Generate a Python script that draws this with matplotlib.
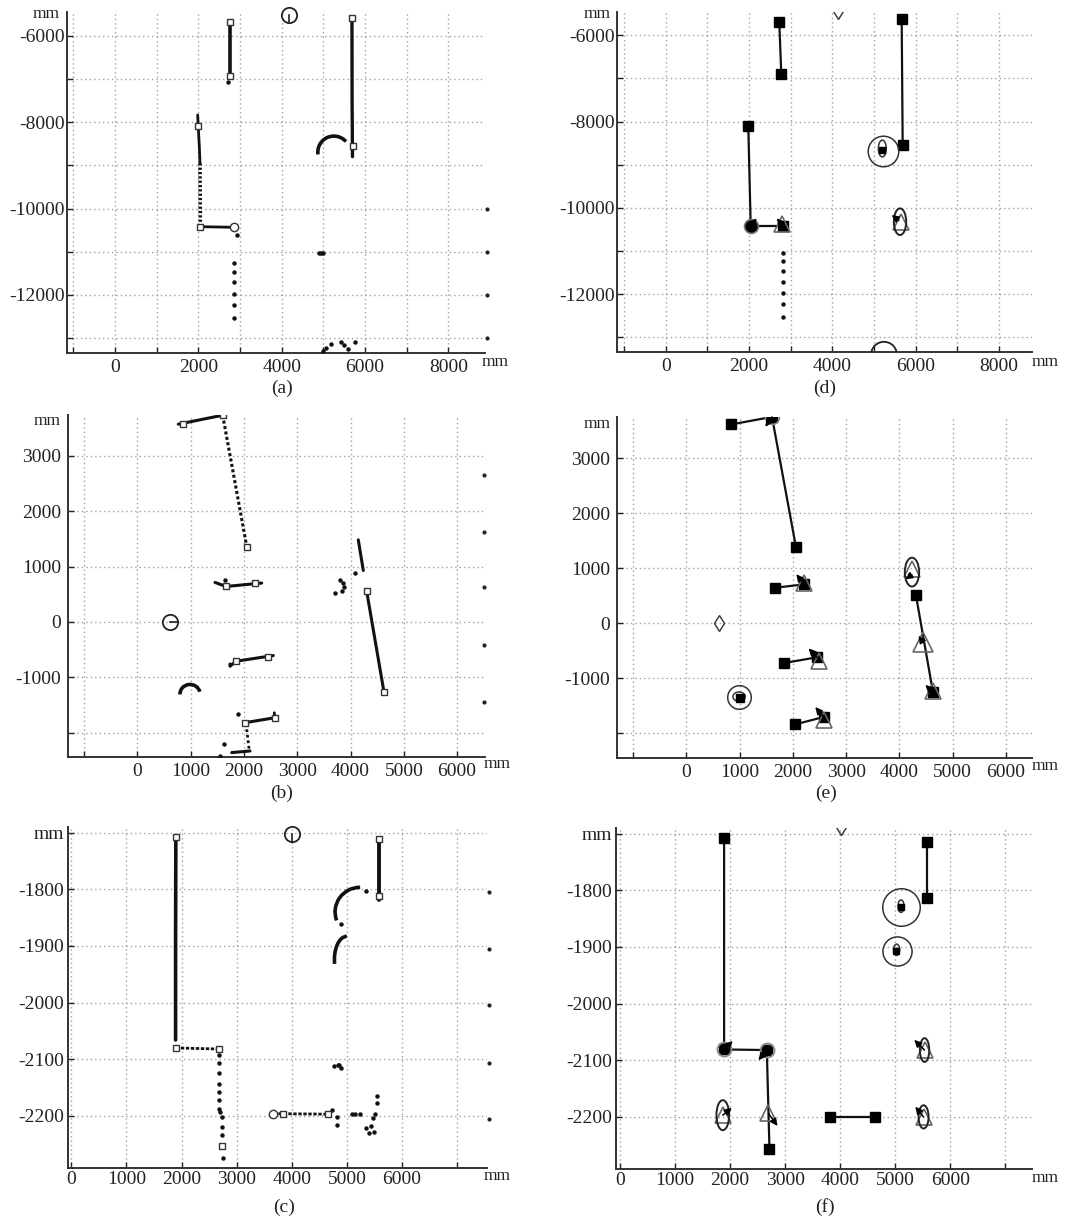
import matplotlib
matplotlib.use("Agg")
import matplotlib.pyplot as plt
from matplotlib.patches import Ellipse, Arc

plt.rcParams['font.family'] = ['Liberation Serif', 'DejaVu Serif']

W, H = 1081, 1220
FS = 14
MMFS = 12.5

# ======================= DATA =======================
# ---- panel (a): raw laser scan, room 1 ----
a_wall1_x = [2771, 2771];           a_wall1_y = [-5690, -6933]
a_wall2_x = [5687, 5690, 5700];     a_wall2_y = [-5597, -7500, -8800]
a_wall3_x = [1984, 2024, 2040];     a_wall3_y = [-7836, -8569, -8954]
a_wall3b_x = [2040, 2048];          a_wall3b_y = [-8954, -10421]
a_wall4_x = [2048, 2851];           a_wall4_y = [-10421, -10435]
a_sq_x = [2771, 2771, 5687, 5700, 2000, 2048]
a_sq_y = [-5690, -6933, -5597, -8546, -8090, -10421]
a_circ_x = [2851];                  a_circ_y = [-10435]
a_dots_x = [2715, 2916, 2867, 2867, 2867, 2867, 2867, 2867, 4900, 4940, 4980,
            4980, 5060, 5180, 5422, 5502, 5600, 5767]
a_dots_y = [-7079, -10613, -11269, -11477, -11708, -11970, -12234, -12525,
            -11037, -11030, -11037, -13310, -13236, -13136, -13090, -13160,
            -13260, -13083]
a_arc_c = [5253, -8694]; a_arc_wh = [770, 740]; a_arc_t = [40, 188]
a_edge_y = [-10000, -11000, -12000, -13000]; a_edge_x = 8920
a_robot = [4169, -5521]; a_head = [4169, -5690]

# ---- panel (d): extracted features, room 1 ----
d_seg1_x = [2727, 2776];            d_seg1_y = [-5692, -6903]
d_seg2_x = [5666, 5690];            d_seg2_y = [-5613, -8546]
d_seg3_x = [1983, 2041, 2824];      d_seg3_y = [-8106, -10421, -10421]
d_corner_x = [2041];                d_corner_y = [-10421]
d_arrow_tail_x = [2041, 2824, 5600]; d_arrow_tail_y = [-10421, -10421, -10290]
d_arrow_head_x = [2185, 2665, 5426]; d_arrow_head_y = [-10243, -10243, -10167]
d_tri_x = [2785, 5640];             d_tri_y = [-10380, -10330]
d_ell_c = [5626, -10322];           d_ell_wh = [296, 617]
d_bigc_x = [5225];                  d_bigc_y = [-8678]
d_inell_c = [5201, -8625];          d_inell_wh = [190, 390]
d_insq_x = [5201];                  d_insq_y = [-8650]
d_dots_y = [-11039, -11231, -11456, -11710, -11965, -12227, -12521]; d_dots_x = 2824
d_diamond = [4144, -5440]
d_arc_c = [5241, -13407];           d_arc_wh = [620, 600]

# ---- panel (b): raw laser scan, room 2 ----
b_segA_x = [769, 1602];             b_segA_y = [3573, 3735]
b_segB_x = [1602, 2053];            b_segB_y = [3735, 1362]
b_segC_x = [1458, 1664, 2334];      b_segC_y = [714, 641, 703]
b_segD_x = [1739, 1739, 1852, 2551]; b_segD_y = [-760, -800, -710, -607]
b_segE_x = [2021, 2583];            b_segE_y = [-1820, -1730]
b_segE2_x = [2570, 2583];           b_segE2_y = [-1640, -1770]
b_segF_x = [4304, 4628];            b_segF_y = [551, -1268]
b_segG_x = [4146, 4240];            b_segG_y = [1483, 930]
b_segH_x = [2053, 2101];            b_segH_y = [-1940, -2331]
b_segI_x = [1771, 2115];            b_segI_y = [-2360, -2331]
b_sq_x = [863, 1602, 2053, 1664, 2208, 1852, 2458, 2021, 2583, 4304, 4628]
b_sq_y = [3573, 3735, 1362, 641, 703, -710, -631, -1820, -1730, 551, -1268]
b_dots_x = [1884, 1627, 1552, 4084, 3803, 3865, 3884, 3834, 3709, 1645]
b_dots_y = [-1670, -2211, -2420, 883, 762, 703, 631, 551, 523, 760]
b_arc_c = [989, -1300]; b_arc_wh = [376, 340]; b_arc_t = [12, 183]
b_edge_y = [2654, 1632, 631, -422, -1441]; b_edge_x = 6505
b_robot = [613, 0]; b_head = [760, 0]

# ---- panel (e): extracted features, room 2 ----
e_segA_x = [839, 1608];             e_segA_y = [3611, 3749]
e_segB_x = [1608, 2058];            e_segB_y = [3749, 1380]
e_segC_x = [1670, 2214];            e_segC_y = [645, 705]
e_segD_x = [1839, 2452];            e_segD_y = [-723, -620]
e_segE_x = [2045, 2576];            e_segE_y = [-1839, -1705]
e_segF_x = [4309, 4628];            e_segF_y = [506, -1253]
e_corner_x = [1608];                e_corner_y = [3749]
e_tri_x = [2201, 2490, 2589, 4628, 4234];  e_tri_y = [736, -680, -1760, -1224, 990]
e_bigtri_x = [4441];                e_bigtri_y = [-349]
e_arrow_tail_x = [1608, 2214, 2452, 2576, 4628, 4441, 4234]
e_arrow_tail_y = [3749, 705, -620, -1705, -1253, -349, 880]
e_arrow_head_x = [1482, 2064, 2295, 2420, 4484, 4358, 4109]
e_arrow_head_y = [3568, 890, -458, -1524, -1121, -229, 795]
e_ell_c = [4234, 928];              e_ell_wh = [269, 524]
e_bigc_x = [981];                   e_bigc_y = [-1344]
e_inell_c = [990, -1335];           e_inell_wh = [230, 170]
e_insq_x = [1010];                  e_insq_y = [-1360]
e_diamond = [619, 0]

# ---- panel (c): raw laser scan, room 3 ----
c_segA_x = [1896, 1891, 1891];      c_segA_y = [-1708, -1900, -2066]
c_segB_x = [1896, 2678];            c_segB_y = [-2080, -2082]
c_segC_x = [5587, 5587];            c_segC_y = [-1711, -1818]
c_segD_x = [3666, 4666];            c_segD_y = [-2196, -2197]
c_sq_x = [1896, 1896, 2678, 5587, 5587, 3836, 4666, 2727]
c_sq_y = [-1708, -2080, -2082, -1711, -1812, -2197, -2197, -2253]
c_circ_x = [3666];                  c_circ_y = [-2196]
c_dots_x = [2678, 2678, 2678, 2678, 2678, 2678, 2678, 2696, 2727, 2739, 2739, 2745,
            5351, 4891, 4775, 4836, 4866, 4891, 4727, 4818, 4818, 5091, 5151, 5242,
            5345, 5411, 5436, 5496, 5473, 5515, 5545, 5545]
c_dots_y = [-2093, -2107, -2125, -2143, -2157, -2172, -2188, -2193, -2202, -2219, -2234, -2275,
            -1803, -1862, -2112, -2110, -2110, -2116, -2190, -2202, -2216, -2197, -2196, -2197,
            -2222, -2231, -2218, -2228, -2204, -2196, -2178, -2165]
c_arc1_c = [5242, -1840]; c_arc1_wh = [910, 87]; c_arc1_t = [90, 182]
c_arc2_c = [5000, -1924]; c_arc2_wh = [450, 82]; c_arc2_t = [90, 182]
c_edge_y = [-1805, -1905, -2004, -2106, -2206]; c_edge_x = 7575
c_robot = [4011, -1702]; c_head = [4011, -1716]

# ---- panel (f): extracted features, room 3 ----
f_seg1_x = [1891, 1891, 2667, 2715]; f_seg1_y = [-1708, -2081, -2082, -2256]
f_seg2_x = [5576, 5576];            f_seg2_y = [-1714, -1813]
f_seg3_x = [3806, 4636];            f_seg3_y = [-2200, -2200]
f_corner_x = [1891, 2667];          f_corner_y = [-2081, -2082]
f_tri_x = [2697, 5533, 5515, 1867]; f_tri_y = [-2194, -2082, -2200, -2197]
f_arrow_tail_x = [1891, 2667, 2697, 5533, 5515, 1867]
f_arrow_tail_y = [-2081, -2082, -2194, -2082, -2200, -2197]
f_arrow_head_x = [2048, 2515, 2861, 5345, 5364, 2030]
f_arrow_head_y = [-2066, -2100, -2216, -2064, -2182, -2184]
f_ell_cx = [5533, 5515, 1867];      f_ell_cy = [-2082, -2200, -2197]
f_ell_w = [170, 182, 230];          f_ell_h = [42, 41, 53]
f_bigc_x = [5109, 5030];            f_bigc_y = [-1829, -1908]
f_bigc_size = [27, 21]
f_inell_cx = [5105, 5025];          f_inell_cy = [-1828, -1905]
f_inell_w = [110, 110];             f_inell_h = [22, 20]
f_insq_x = [5105, 5022];            f_insq_y = [-1830, -1908]
f_diamond = [4018, -1688]

# ======================= LAYOUT =======================
fig = plt.figure(figsize=(W / 100, H / 100), dpi=100)


def add_ax(l, t, r, b):
    return fig.add_axes([l / W, 1 - b / H, (r - l) / W, (b - t) / H])


def style(ax, xlim, ylim, xt, xl, yt, yl, xpad=4, ypad=1.5):
    ax.set_xlim(xlim)
    ax.set_ylim(ylim)
    ax.set_xticks(xt)
    ax.set_xticklabels(xl)
    ax.set_yticks(yt)
    ax.set_yticklabels(yl)
    ax.set_axisbelow(True)
    ax.grid(True, color='#a0a0a0', linestyle=(0, (1, 2.2)), linewidth=1.0)
    for s in ['top', 'right']:
        ax.spines[s].set_visible(False)
    for s in ['left', 'bottom']:
        ax.spines[s].set_color('#333333')
        ax.spines[s].set_linewidth(1.4)
    ax.tick_params(axis='x', direction='in', length=4, width=1, labelsize=FS,
                   pad=xpad, colors='#222222')
    ax.tick_params(axis='y', direction='in', length=4, width=1, labelsize=FS,
                   pad=ypad, colors='#222222')


def ftext(x, y, s, **kw):
    fig.text(x / W, 1 - y / H, s, color='#222222', **kw)


def arrows(ax, tx, ty, hx, hy):
    for x0, y0, x1, y1 in zip(tx, ty, hx, hy):
        ax.annotate('', xy=(x1, y1), xytext=(x0, y0),
                    arrowprops=dict(arrowstyle='-|>,head_length=0.7,head_width=0.35',
                                    color='k', lw=1.1, shrinkA=0, shrinkB=0,
                                    mutation_scale=6), zorder=6)


def seg(ax, x, y, lw=2.2, ls='-', color='#111111', z=3):
    ax.plot(x, y, color=color, lw=lw, ls=ls, solid_capstyle='round', zorder=z)


def opensq(ax, x, y):
    ax.plot(x, y, 's', ms=5, mfc='white', mec='#333333', mew=1.0, ls='none', zorder=5)


def dots(ax, x, y):
    ax.plot(x, y, 'o', ms=2.2, color='#111111', ls='none', zorder=4)


def fillsq(ax, x, y, ms=6.5):
    ax.plot(x, y, 's', ms=ms, color='black', ls='none', zorder=5)


def tris(ax, x, y, ms=11):
    ax.plot(x, y, '^', ms=ms, mfc='none', mec='#666666', mew=1.2, ls='none', zorder=5)


def robot(ax, c, h):
    ax.plot([c[0]], [c[1]], 'o', ms=11, mfc='none', mec='#222222', mew=1.3, zorder=5,
            clip_on=False)
    ax.plot([c[0], h[0]], [c[1], h[1]], color='#222222', lw=1.2, zorder=5, clip_on=False)


x_a = [-1000, 0, 1000, 2000, 3000, 4000, 5000, 6000, 7000, 8000]
xl_a = ['', '0', '', '2000', '', '4000', '', '6000', '', '8000']
y_a = [-13000, -12000, -11000, -10000, -9000, -8000, -7000, -6000]
yl_a = ['', '-12000', '', '-10000', '', '-8000', '', '-6000']

# ---------------- (a) ----------------
ax = add_ax(67, 12, 485, 353)
style(ax, (-1152, 8880), (-13345, -5451), x_a, xl_a, y_a, yl_a)
seg(ax, a_wall1_x, a_wall1_y, lw=2.6)
seg(ax, a_wall2_x, a_wall2_y, lw=2.4)
seg(ax, a_wall3_x, a_wall3_y, lw=2.0)
seg(ax, a_wall3b_x, a_wall3b_y, lw=2.6, ls=(0, (0.6, 0.6)))
seg(ax, a_wall4_x, a_wall4_y, lw=2.0)
ax.add_patch(Arc(a_arc_c, a_arc_wh[0], a_arc_wh[1], theta1=a_arc_t[0], theta2=a_arc_t[1],
                 color='#111111', lw=2.6, zorder=3))
dots(ax, a_dots_x, a_dots_y)
opensq(ax, a_sq_x, a_sq_y)
ax.plot(a_circ_x, a_circ_y, 'o', ms=6, mfc='white', mec='#333333', mew=1.0, zorder=5)
ax.plot([a_edge_x] * len(a_edge_y), a_edge_y, 'o', ms=2, color='#222222', clip_on=False)
robot(ax, a_robot, a_head)
ftext(60, 18.5, 'mm', ha='right', va='baseline', fontsize=MMFS)
ftext(482, 366, 'mm', ha='left', va='baseline', fontsize=MMFS)
ftext(282, 388, '(a)', ha='center', va='center', fontsize=FS)

# ---------------- (d) ----------------
ax = add_ax(617, 12, 1032, 352)
style(ax, (-1169, 8795), (-13343, -5459), x_a, xl_a, y_a, yl_a)
for sx, sy in [(d_seg1_x, d_seg1_y), (d_seg2_x, d_seg2_y), (d_seg3_x, d_seg3_y)]:
    seg(ax, sx, sy, lw=1.6)
fillsq(ax, [d_seg1_x[0], d_seg1_x[-1], d_seg2_x[0], d_seg2_x[-1], d_seg3_x[0], d_seg3_x[-1]],
       [d_seg1_y[0], d_seg1_y[-1], d_seg2_y[0], d_seg2_y[-1], d_seg3_y[0], d_seg3_y[-1]])
ax.plot(d_corner_x, d_corner_y, 'o', ms=10, mfc='black', mec='#777777', mew=1.2, zorder=5)
tris(ax, d_tri_x, d_tri_y, ms=12)
ax.add_patch(Ellipse(d_ell_c, d_ell_wh[0], d_ell_wh[1], fill=False, ec='#222222', lw=1.4, zorder=5))
arrows(ax, d_arrow_tail_x, d_arrow_tail_y, d_arrow_head_x, d_arrow_head_y)
ax.plot(d_bigc_x, d_bigc_y, 'o', ms=22, mfc='none', mec='#333333', mew=1.1, zorder=5)
ax.add_patch(Ellipse(d_inell_c, d_inell_wh[0], d_inell_wh[1], fill=False, ec='#333333', lw=1.1, zorder=5))
fillsq(ax, d_insq_x, d_insq_y, ms=5)
dots(ax, [d_dots_x] * len(d_dots_y), d_dots_y)
ax.plot([d_diamond[0]], [d_diamond[1]], 'd', ms=8, mfc='none', mec='#333333', mew=1.0, zorder=5)
ax.add_patch(Ellipse(d_arc_c, d_arc_wh[0], d_arc_wh[1], fill=False, ec='#222222', lw=1.3, zorder=5))
ftext(611, 18.5, 'mm', ha='right', va='baseline', fontsize=MMFS)
ftext(1032, 366, 'mm', ha='left', va='baseline', fontsize=MMFS)
ftext(825, 388, '(d)', ha='center', va='center', fontsize=FS)

x_b = [-1000, 0, 1000, 2000, 3000, 4000, 5000, 6000]
xl_b = ['', '0', '1000', '2000', '3000', '4000', '5000', '6000']
y_b = [-2000, -1000, 0, 1000, 2000, 3000]
yl_b = ['', '-1000', '0', '1000', '2000', '3000']

# ---------------- (b) ----------------
ax = add_ax(68, 415, 485, 757)
style(ax, (-1300, 6523), (-2440, 3739), x_b, xl_b, y_b, yl_b, ypad=5)
seg(ax, b_segA_x, b_segA_y, lw=2.2)
seg(ax, b_segB_x, b_segB_y, lw=2.2, ls=(0, (1, 0.8)))
seg(ax, b_segC_x, b_segC_y, lw=2.2)
seg(ax, b_segD_x, b_segD_y, lw=2.2)
seg(ax, b_segE_x, b_segE_y, lw=2.2)
seg(ax, b_segE2_x, b_segE2_y, lw=2.0)
seg(ax, b_segF_x, b_segF_y, lw=2.2)
seg(ax, b_segG_x, b_segG_y, lw=2.2)
seg(ax, b_segH_x, b_segH_y, lw=2.0, ls=(0, (1, 1)))
seg(ax, b_segI_x, b_segI_y, lw=2.2)
ax.add_patch(Arc(b_arc_c, b_arc_wh[0], b_arc_wh[1], theta1=b_arc_t[0], theta2=b_arc_t[1],
                 color='#111111', lw=2.6, zorder=3))
dots(ax, b_dots_x, b_dots_y)
opensq(ax, b_sq_x, b_sq_y)
ax.plot([b_edge_x] * len(b_edge_y), b_edge_y, 'o', ms=2, color='#222222', clip_on=False)
robot(ax, b_robot, b_head)
ftext(61, 425, 'mm', ha='right', va='baseline', fontsize=MMFS)
ftext(484, 768, 'mm', ha='left', va='baseline', fontsize=MMFS)
ftext(282, 793, '(b)', ha='center', va='center', fontsize=FS)

# ---------------- (e) ----------------
ax = add_ax(617, 417, 1032, 758)
style(ax, (-1300, 6486), (-2450, 3747), x_b, xl_b, y_b, yl_b, ypad=5)
for sx, sy in [(e_segA_x, e_segA_y), (e_segB_x, e_segB_y), (e_segC_x, e_segC_y),
               (e_segD_x, e_segD_y), (e_segE_x, e_segE_y), (e_segF_x, e_segF_y)]:
    seg(ax, sx, sy, lw=1.6)
    fillsq(ax, [sx[0], sx[-1]], [sy[0], sy[-1]])
ax.plot(e_corner_x, e_corner_y, 'o', ms=10, mfc='none', mec='#888888', mew=1.2, zorder=5)
tris(ax, e_tri_x, e_tri_y, ms=12)
tris(ax, e_bigtri_x, e_bigtri_y, ms=15)
ax.add_patch(Ellipse(e_ell_c, e_ell_wh[0], e_ell_wh[1], fill=False, ec='#222222', lw=1.4, zorder=5))
arrows(ax, e_arrow_tail_x, e_arrow_tail_y, e_arrow_head_x, e_arrow_head_y)
ax.plot(e_bigc_x, e_bigc_y, 'o', ms=17, mfc='none', mec='#333333', mew=1.1, zorder=5)
ax.add_patch(Ellipse(e_inell_c, e_inell_wh[0], e_inell_wh[1], fill=False, ec='#333333', lw=1.1, zorder=5))
fillsq(ax, e_insq_x, e_insq_y, ms=5.5)
ax.plot([e_diamond[0]], [e_diamond[1]], 'd', ms=8, mfc='none', mec='#333333', mew=1.0, zorder=5)
ftext(611, 428, 'mm', ha='right', va='baseline', fontsize=MMFS)
ftext(1032, 770, 'mm', ha='left', va='baseline', fontsize=MMFS)
ftext(826, 793, '(e)', ha='center', va='center', fontsize=FS)

x_c = [0, 1000, 2000, 3000, 4000, 5000, 6000, 7000]
xl_c = ['0', '1000', '2000', '3000', '4000', '5000', '6000', '']
y_c = [-2200, -2100, -2000, -1900, -1800, -1700]
yl_c = ['-2200', '-2100', '-2000', '-1900', '-1800', 'mm']

# ---------------- (c) ----------------
ax = add_ax(68, 827, 487, 1168)
style(ax, (-62, 7545), (-2292, -1690), x_c, xl_c, y_c, yl_c, xpad=2.5, ypad=3)
seg(ax, c_segA_x, c_segA_y, lw=2.6)
seg(ax, c_segB_x, c_segB_y, lw=2.0, ls=(0, (1.2, 0.6)))
seg(ax, c_segC_x, c_segC_y, lw=2.8)
seg(ax, c_segD_x, c_segD_y, lw=2.0, ls=(0, (1.2, 0.6)))
ax.add_patch(Arc(c_arc1_c, c_arc1_wh[0], c_arc1_wh[1], theta1=c_arc1_t[0], theta2=c_arc1_t[1],
                 color='#111111', lw=2.6, zorder=3))
ax.add_patch(Arc(c_arc2_c, c_arc2_wh[0], c_arc2_wh[1], theta1=c_arc2_t[0], theta2=c_arc2_t[1],
                 color='#111111', lw=2.6, zorder=3))
dots(ax, c_dots_x, c_dots_y)
opensq(ax, c_sq_x, c_sq_y)
ax.plot(c_circ_x, c_circ_y, 'o', ms=6, mfc='white', mec='#333333', mew=1.0, zorder=5)
ax.plot([c_edge_x] * len(c_edge_y), c_edge_y, 'o', ms=2, color='#222222', clip_on=False)
robot(ax, c_robot, c_head)
ftext(484, 1180, 'mm', ha='left', va='baseline', fontsize=MMFS)
ftext(284, 1207, '(c)', ha='center', va='center', fontsize=FS)

# ---------------- (f) ----------------
ax = add_ax(616, 828, 1032, 1169)
style(ax, (-73, 7485), (-2292, -1690), x_c, xl_c, y_c, yl_c, xpad=2.5, ypad=3)
seg(ax, f_seg1_x, f_seg1_y, lw=1.6)
seg(ax, f_seg2_x, f_seg2_y, lw=1.6)
seg(ax, f_seg3_x, f_seg3_y, lw=1.6)
fillsq(ax, [f_seg1_x[0], f_seg1_x[1], f_seg1_x[2], f_seg1_x[3], f_seg2_x[0], f_seg2_x[1],
            f_seg3_x[0], f_seg3_x[1]],
       [f_seg1_y[0], f_seg1_y[1], f_seg1_y[2], f_seg1_y[3], f_seg2_y[0], f_seg2_y[1],
        f_seg3_y[0], f_seg3_y[1]])
ax.plot(f_corner_x, f_corner_y, 'o', ms=10, mfc='none', mec='#888888', mew=1.4, zorder=5)
tris(ax, f_tri_x, f_tri_y, ms=12)
for cx, cy, w, h in zip(f_ell_cx, f_ell_cy, f_ell_w, f_ell_h):
    ax.add_patch(Ellipse((cx, cy), w, h, fill=False, ec='#222222', lw=1.4, zorder=5))
arrows(ax, f_arrow_tail_x, f_arrow_tail_y, f_arrow_head_x, f_arrow_head_y)
for cx, cy, s in zip(f_bigc_x, f_bigc_y, f_bigc_size):
    ax.plot([cx], [cy], 'o', ms=s, mfc='none', mec='#333333', mew=1.1, zorder=5)
for cx, cy, w, h in zip(f_inell_cx, f_inell_cy, f_inell_w, f_inell_h):
    ax.add_patch(Ellipse((cx, cy), w, h, fill=False, ec='#333333', lw=1.1, zorder=5))
fillsq(ax, f_insq_x, f_insq_y, ms=5)
ax.plot([f_diamond[0]], [f_diamond[1]], 'd', ms=8, mfc='none', mec='#333333', mew=1.0, zorder=5)
ftext(1032, 1182, 'mm', ha='left', va='baseline', fontsize=MMFS)
ftext(825, 1207, '(f)', ha='center', va='center', fontsize=FS)

fig.savefig('out.png', dpi=100)
